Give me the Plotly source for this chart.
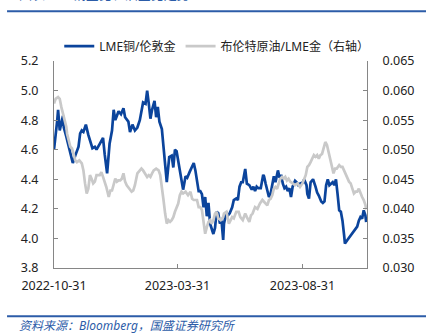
import plotly.graph_objects as go

# LME copper / London gold (left axis)
cu_dates = [
    "2022-10-31", "2022-11-02", "2022-11-04", "2022-11-05", "2022-11-07", "2022-11-11", "2022-11-12",
    "2022-11-15", "2022-11-20", "2022-11-23", "2022-11-26", "2022-11-30", "2022-12-02", "2022-12-04",
    "2022-12-06", "2022-12-09", "2022-12-12", "2022-12-14", "2022-12-17", "2022-12-20", "2022-12-22",
    "2022-12-26", "2022-12-30", "2023-01-01", "2023-01-04", "2023-01-07", "2023-01-10", "2023-01-12",
    "2023-01-14", "2023-01-16", "2023-01-18", "2023-01-21", "2023-01-24", "2023-01-26", "2023-01-30",
    "2023-02-01", "2023-02-04", "2023-02-07", "2023-02-10", "2023-02-13", "2023-02-15", "2023-02-17",
    "2023-02-20", "2023-02-22", "2023-02-24", "2023-02-26", "2023-02-28", "2023-03-03", "2023-03-05",
    "2023-03-07", "2023-03-09", "2023-03-12", "2023-03-14", "2023-03-16", "2023-03-18", "2023-03-21",
    "2023-03-24", "2023-03-26", "2023-03-28", "2023-03-30", "2023-04-01", "2023-04-03", "2023-04-05",
    "2023-04-07", "2023-04-10", "2023-04-12", "2023-04-15", "2023-04-18", "2023-04-20", "2023-04-22",
    "2023-04-24", "2023-04-26", "2023-04-28", "2023-04-30", "2023-05-02", "2023-05-04", "2023-05-06",
    "2023-05-08", "2023-05-10", "2023-05-12", "2023-05-14", "2023-05-16", "2023-05-18", "2023-05-20",
    "2023-05-22", "2023-05-24", "2023-05-26", "2023-05-27", "2023-05-30", "2023-05-31", "2023-06-03",
    "2023-06-06", "2023-06-08", "2023-06-11", "2023-06-13", "2023-06-15", "2023-06-17", "2023-06-19",
    "2023-06-21", "2023-06-22", "2023-06-24", "2023-06-27", "2023-06-30", "2023-07-02", "2023-07-04",
    "2023-07-06", "2023-07-08", "2023-07-11", "2023-07-14", "2023-07-15", "2023-07-17", "2023-07-19",
    "2023-07-21", "2023-07-23", "2023-07-25", "2023-07-27", "2023-07-29", "2023-08-01", "2023-08-03",
    "2023-08-05", "2023-08-07", "2023-08-09", "2023-08-11", "2023-08-13", "2023-08-15", "2023-08-17",
    "2023-08-19", "2023-08-22", "2023-08-24", "2023-08-26", "2023-08-28", "2023-09-01", "2023-09-02",
    "2023-09-05", "2023-09-06", "2023-09-08", "2023-09-10", "2023-09-13", "2023-09-16", "2023-09-18",
    "2023-09-20", "2023-09-23", "2023-09-25", "2023-09-27", "2023-09-29", "2023-10-01", "2023-10-03",
    "2023-10-05", "2023-10-07", "2023-10-09", "2023-10-11", "2023-10-13", "2023-10-15", "2023-10-17",
    "2023-10-19", "2023-10-21", "2023-10-22", "2023-10-25", "2023-10-29", "2023-11-02", "2023-11-06",
    "2023-11-08", "2023-11-10", "2023-11-12", "2023-11-14", "2023-11-16", "2023-11-17",
]
cu_gold = [
    4.60, 4.69, 4.80, 4.87, 4.73, 4.83, 4.75,
    4.69, 4.57, 4.51, 4.56, 4.62, 4.71, 4.73,
    4.72, 4.77, 4.70, 4.66, 4.61, 4.62, 4.60,
    4.64, 4.68, 4.57, 4.44, 4.64, 4.73, 4.87,
    4.80, 4.83, 4.86, 4.84, 4.88, 4.82, 4.79,
    4.72, 4.77, 4.73, 4.75, 4.80, 4.87, 4.92,
    4.91, 5.00, 4.91, 4.81, 4.87, 4.93, 4.82,
    4.89, 4.79, 4.74, 4.62, 4.48, 4.38, 4.55,
    4.56, 4.48, 4.60, 4.59, 4.53, 4.47, 4.41,
    4.33, 4.42, 4.41, 4.45, 4.48, 4.51, 4.46,
    4.39, 4.32, 4.32, 4.30, 4.21, 4.28, 4.15,
    4.24, 4.10, 4.06, 4.03, 4.07, 4.18, 4.17,
    4.10, 4.12, 3.99, 4.10, 4.18, 4.15, 4.17,
    4.21, 4.26, 4.27, 4.26, 4.35, 4.38, 4.38,
    4.44, 4.47, 4.37, 4.36, 4.33, 4.35, 4.32,
    4.35, 4.34, 4.34, 4.43, 4.42, 4.37, 4.33,
    4.28, 4.30, 4.36, 4.42, 4.38, 4.46, 4.41,
    4.43, 4.37, 4.34, 4.35, 4.32, 4.34, 4.28,
    4.35, 4.39, 4.38, 4.36, 4.37, 4.38, 4.40,
    4.36, 4.30, 4.27, 4.38, 4.40, 4.35, 4.31,
    4.29, 4.25, 4.24, 4.25, 4.36, 4.40, 4.36,
    4.37, 4.38, 4.36, 4.40, 4.30, 4.19, 4.18,
    4.12, 4.02, 3.965, 3.99, 4.02, 4.055, 4.08,
    4.12, 4.145, 4.134, 4.19, 4.157, 4.11,
]

# Brent crude / LME gold (right axis)
oil_dates = [
    "2022-10-31", "2022-11-02", "2022-11-05", "2022-11-07", "2022-11-09", "2022-11-11", "2022-11-12",
    "2022-11-15", "2022-11-16", "2022-11-18", "2022-11-20", "2022-11-22", "2022-11-24", "2022-11-26",
    "2022-11-28", "2022-12-01", "2022-12-04", "2022-12-06", "2022-12-08", "2022-12-10", "2022-12-12",
    "2022-12-14", "2022-12-16", "2022-12-18", "2022-12-20", "2022-12-22", "2022-12-26", "2022-12-28",
    "2022-12-30", "2023-01-01", "2023-01-03", "2023-01-06", "2023-01-08", "2023-01-10", "2023-01-12",
    "2023-01-14", "2023-01-16", "2023-01-18", "2023-01-20", "2023-01-22", "2023-01-24", "2023-01-26",
    "2023-01-28", "2023-01-31", "2023-02-03", "2023-02-05", "2023-02-07", "2023-02-10", "2023-02-13",
    "2023-02-15", "2023-02-17", "2023-02-20", "2023-02-22", "2023-02-24", "2023-02-26", "2023-02-28",
    "2023-03-02", "2023-03-05", "2023-03-08", "2023-03-10", "2023-03-12", "2023-03-14", "2023-03-16",
    "2023-03-18", "2023-03-20", "2023-03-22", "2023-03-24", "2023-03-26", "2023-03-28", "2023-03-30",
    "2023-04-01", "2023-04-03", "2023-04-05", "2023-04-07", "2023-04-10", "2023-04-13", "2023-04-16",
    "2023-04-18", "2023-04-20", "2023-04-22", "2023-04-24", "2023-04-26", "2023-04-28", "2023-04-30",
    "2023-05-02", "2023-05-04", "2023-05-06", "2023-05-08", "2023-05-10", "2023-05-12", "2023-05-14",
    "2023-05-16", "2023-05-18", "2023-05-20", "2023-05-23", "2023-05-26", "2023-05-27", "2023-05-30",
    "2023-06-02", "2023-06-04", "2023-06-06", "2023-06-08", "2023-06-11", "2023-06-14", "2023-06-16",
    "2023-06-19", "2023-06-22", "2023-06-24", "2023-06-27", "2023-06-29", "2023-07-01", "2023-07-04",
    "2023-07-07", "2023-07-10", "2023-07-13", "2023-07-15", "2023-07-17", "2023-07-19", "2023-07-21",
    "2023-07-23", "2023-07-25", "2023-07-27", "2023-07-29", "2023-07-31", "2023-08-02", "2023-08-04",
    "2023-08-06", "2023-08-08", "2023-08-10", "2023-08-12", "2023-08-14", "2023-08-16", "2023-08-19",
    "2023-08-22", "2023-08-25", "2023-08-28", "2023-08-31", "2023-09-02", "2023-09-04", "2023-09-06",
    "2023-09-08", "2023-09-10", "2023-09-12", "2023-09-14", "2023-09-16", "2023-09-18", "2023-09-20",
    "2023-09-22", "2023-09-24", "2023-09-26", "2023-09-28", "2023-09-30", "2023-10-02", "2023-10-04",
    "2023-10-06", "2023-10-08", "2023-10-10", "2023-10-12", "2023-10-15", "2023-10-17", "2023-10-19",
    "2023-10-21", "2023-10-23", "2023-10-25", "2023-10-27", "2023-10-29", "2023-10-31", "2023-11-02",
    "2023-11-04", "2023-11-06", "2023-11-08", "2023-11-10", "2023-11-12", "2023-11-14", "2023-11-16",
    "2023-11-17",
]
oil_gold = [
    0.0578, 0.0586, 0.0589, 0.0586, 0.0572, 0.0561, 0.0553,
    0.0539, 0.0527, 0.0516, 0.0505, 0.0502, 0.0493, 0.0482,
    0.0479, 0.0482, 0.0477, 0.0465, 0.0443, 0.0426, 0.0434,
    0.0457, 0.0451, 0.0443, 0.0446, 0.0457, 0.0457, 0.0462,
    0.0454, 0.0446, 0.0437, 0.0420, 0.0431, 0.0431, 0.0443,
    0.0451, 0.0446, 0.0448, 0.0448, 0.0451, 0.0460, 0.0446,
    0.0440, 0.0434, 0.0429, 0.0431, 0.0440, 0.0460, 0.0465,
    0.0468, 0.0465, 0.0457, 0.0454, 0.0457, 0.0454, 0.0460,
    0.0465, 0.0468, 0.0465, 0.0457, 0.0440, 0.0415, 0.0392,
    0.0375, 0.0381, 0.0378, 0.0381, 0.0386, 0.0395, 0.0403,
    0.0409, 0.0423, 0.0429, 0.0426, 0.0429, 0.0423, 0.0429,
    0.0417, 0.0415, 0.0415, 0.0415, 0.0403, 0.0403, 0.0398,
    0.0381, 0.0358, 0.0369, 0.0378, 0.0381, 0.0375, 0.0381,
    0.0392, 0.0395, 0.0384, 0.0381, 0.0386, 0.0392, 0.0395,
    0.0375, 0.0381, 0.0386, 0.0384, 0.0395, 0.0395, 0.0386,
    0.0381, 0.0392, 0.0386, 0.0378, 0.0389, 0.0392, 0.0403,
    0.0400, 0.0409, 0.0415, 0.0412, 0.0409, 0.0406, 0.0415,
    0.0417, 0.0423, 0.0434, 0.0437, 0.0434, 0.0443, 0.0451,
    0.0454, 0.0451, 0.0454, 0.0448, 0.0451, 0.0446, 0.0443,
    0.0440, 0.0443, 0.0437, 0.0443, 0.0451, 0.0457, 0.0471,
    0.0474, 0.0479, 0.0485, 0.0491, 0.0488, 0.0491, 0.0485,
    0.0491, 0.0493, 0.0502, 0.0513, 0.0508, 0.0496, 0.0488,
    0.0471, 0.0460, 0.0468, 0.0468, 0.0474, 0.0471, 0.0471,
    0.0465, 0.0460, 0.0451, 0.0446, 0.0443, 0.0434, 0.0426,
    0.0429, 0.0429, 0.0434, 0.0426, 0.0420, 0.0415, 0.0407,
    0.0399,
]

x_tick_dates = ["2022-10-31", "2023-03-31", "2023-08-31"]
x_tick_labels = ["2022-10-31", "2023-03-31", "2023-08-31"]

BLUE = "#0b449c"
GREY = "#c9c9c9"
HEADER_BLUE = "#2c5ca8"
AXIS = "#868686"
FONT = "Noto Sans, Noto Sans CJK SC, sans-serif"

fig = go.Figure()
fig.add_trace(go.Scatter(
    x=cu_dates, y=cu_gold, name="LME铜/伦敦金", mode="lines",
    line=dict(color=BLUE, width=2.7), yaxis="y",
))
fig.add_trace(go.Scatter(
    x=oil_dates, y=oil_gold, name="布伦特原油/LME金（右轴）", mode="lines",
    line=dict(color=GREY, width=2.7), yaxis="y2",
))

axis_common = dict(
    showgrid=False, zeroline=False, showline=True, linecolor=AXIS, linewidth=1,
    ticks="inside", ticklen=4, tickcolor=AXIS,
    tickfont=dict(family=FONT, size=12.5, color="#222222"),
)

fig.update_layout(
    width=426, height=333,
    margin=dict(l=54, r=59, t=61, b=65),
    paper_bgcolor="white", plot_bgcolor="white",
    font=dict(family=FONT, color="#222222"),
    showlegend=True,
    legend=dict(
        orientation="h", x=0.52, xanchor="center", y=1.072, yanchor="middle",
        font=dict(family=FONT, size=12, color="#222222"),
        itemwidth=30, tracegroupgap=0, bgcolor="rgba(0,0,0,0)",
    ),
    xaxis=dict(
        type="date", range=["2022-10-31", "2023-11-18"],
        tickvals=x_tick_dates, ticktext=x_tick_labels,
        ticklabelstandoff=6,
        **axis_common,
    ),
    yaxis=dict(
        range=[3.8, 5.2], dtick=0.2, tick0=3.8, tickformat=".1f",
        ticklabelstandoff=12,
        **axis_common,
    ),
    yaxis2=dict(
        range=[0.030, 0.065], dtick=0.005, tick0=0.030, tickformat=".3f",
        overlaying="y", side="right", ticklabelstandoff=12,
        **axis_common,
    ),
    shapes=[
        dict(type="line", xref="paper", yref="paper", x0=-0.15, x1=1.19, y0=1.240, y1=1.240,
             line=dict(color=HEADER_BLUE, width=2)),
        dict(type="line", xref="paper", yref="paper", x0=-0.15, x1=1.19, y0=-0.2335, y1=-0.2335,
             line=dict(color=HEADER_BLUE, width=2)),
    ],
    annotations=[
        dict(text="图表23：铜金比、油金比走势", xref="paper", yref="paper",
             x=-0.118, xanchor="left", y=1.272, yanchor="bottom", showarrow=False,
             font=dict(family=FONT, size=13, color=HEADER_BLUE)),
        dict(text="资料来源：Bloomberg，国盛证券研究所", xref="paper", yref="paper",
             x=-0.118, xanchor="left", y=-0.277, yanchor="middle", showarrow=False,
             font=dict(family=FONT, size=12, color=HEADER_BLUE, style="italic")),
    ],
)

fig.write_html("out.html")
